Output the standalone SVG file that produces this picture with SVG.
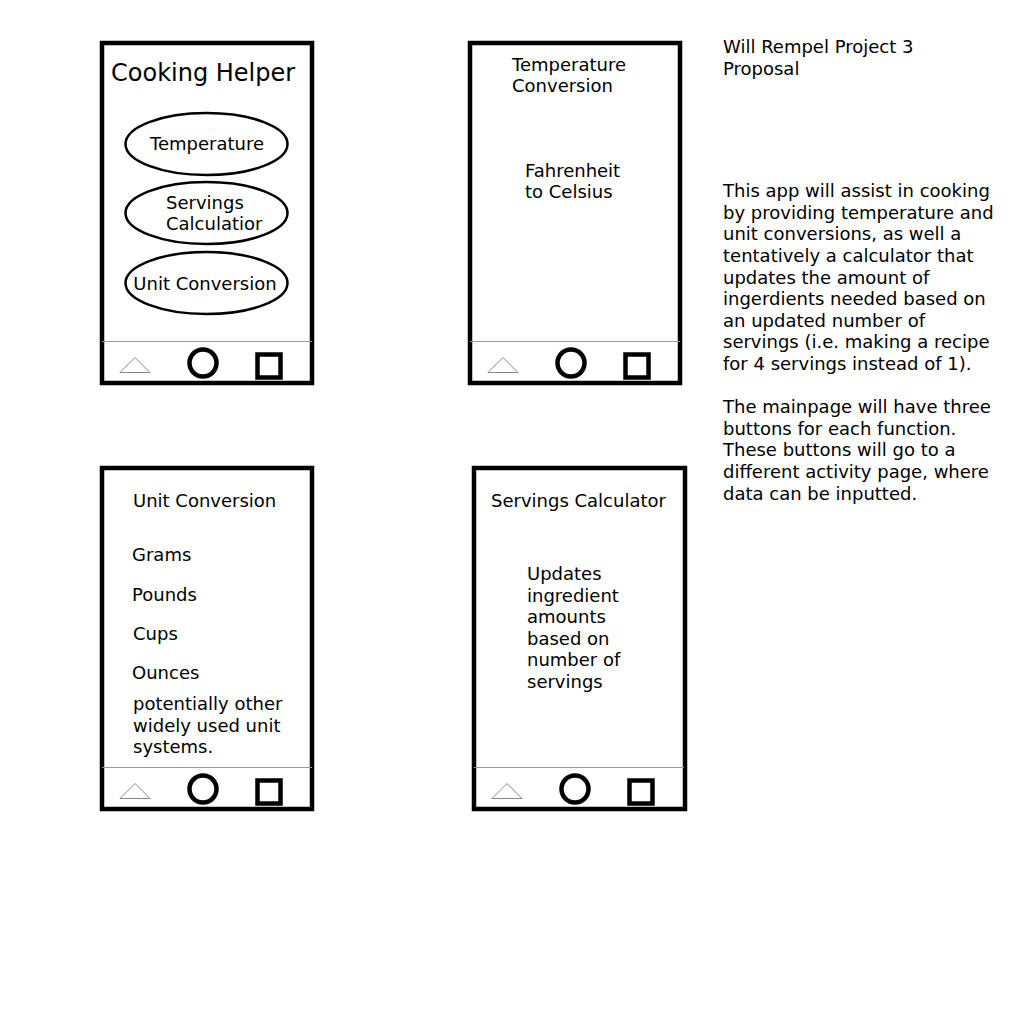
<svg xmlns="http://www.w3.org/2000/svg" width="1024" height="1024" viewBox="0 0 1024 1024">
<style>
text{font-family:"DejaVu Sans","Verdana",sans-serif;font-size:18px;fill:#000}
.frame{fill:#fff;stroke:#000;stroke-width:4.5}
.sep{stroke:#999;stroke-width:1.2}
.tri{fill:#fff;stroke:#888;stroke-width:1}
.home{fill:none;stroke:#000;stroke-width:4.5}
.btn{fill:#fff;stroke:#000;stroke-width:2.5}
</style>
<defs>
<g id="nav">
<line class="sep" x1="0" y1="0.5" x2="210" y2="0.5"/>
<polygon class="tri" points="18,31.5 33,16.5 48,31.5"/>
<circle class="home" cx="101" cy="22" r="13.5"/>
<rect class="home" x="155.5" y="13.5" width="23" height="23"/>
</g>
</defs>
<rect width="1024" height="1024" fill="#fff"/>

<g id="phone-main">
<rect class="frame" x="102" y="43" width="210" height="340"/>
<use href="#nav" x="102" y="341"/>
<text x="111" y="81" style="font-size:24px">Cooking Helper</text>
<g id="btn-temperature">
<ellipse class="btn" cx="206.5" cy="144" rx="81" ry="31"/>
<text x="207" y="150" text-anchor="middle">Temperature</text>
</g>
<g id="btn-servings">
<ellipse class="btn" cx="206.5" cy="213" rx="81" ry="31"/>
<text x="166" y="209">Servings</text>
<text x="166" y="230">Calculatior</text>
</g>
<g id="btn-unit">
<ellipse class="btn" cx="206.5" cy="283" rx="81" ry="31"/>
<text x="205" y="290" text-anchor="middle">Unit Conversion</text>
</g>
</g>

<g id="phone-temperature">
<rect class="frame" x="470" y="43" width="210" height="340"/>
<use href="#nav" x="470" y="341"/>
<text x="512" y="71">Temperature</text>
<text x="512" y="92">Conversion</text>
<text x="525" y="177">Fahrenheit</text>
<text x="525" y="198">to Celsius</text>
</g>

<g id="phone-unit">
<rect class="frame" x="102" y="468" width="210" height="341"/>
<use href="#nav" x="102" y="767"/>
<text x="133" y="507">Unit Conversion</text>
<text x="132" y="561">Grams</text>
<text x="132" y="601">Pounds</text>
<text x="133" y="640">Cups</text>
<text x="132" y="679">Ounces</text>
<text x="133" y="710">potentially other</text>
<text x="133" y="732">widely used unit</text>
<text x="133" y="753">systems.</text>
</g>

<g id="phone-servings">
<rect class="frame" x="474" y="468" width="211" height="341"/>
<use href="#nav" x="474" y="767"/>
<text x="491" y="507">Servings Calculator</text>
<text x="527" y="580">Updates</text>
<text x="527" y="602">ingredient</text>
<text x="527" y="623">amounts</text>
<text x="527" y="645">based on</text>
<text x="527" y="666">number of</text>
<text x="527" y="688">servings</text>
</g>

<g id="description">
<text x="723" y="53">Will Rempel Project 3</text>
<text x="723" y="75">Proposal</text>
<text x="723" y="197">This app will assist in cooking</text>
<text x="723" y="219">by providing temperature and</text>
<text x="723" y="240">unit conversions, as well a</text>
<text x="723" y="262">tentatively a calculator that</text>
<text x="723" y="284">updates the amount of</text>
<text x="723" y="305">ingerdients needed based on</text>
<text x="723" y="327">an updated number of</text>
<text x="723" y="348">servings (i.e. making a recipe</text>
<text x="723" y="370">for 4 servings instead of 1).</text>
<text x="723" y="413">The mainpage will have three</text>
<text x="723" y="435">buttons for each function.</text>
<text x="723" y="456">These buttons will go to a</text>
<text x="723" y="478">different activity page, where</text>
<text x="723" y="500">data can be inputted.</text>
</g>
<g id="connectors"/>
</svg>
